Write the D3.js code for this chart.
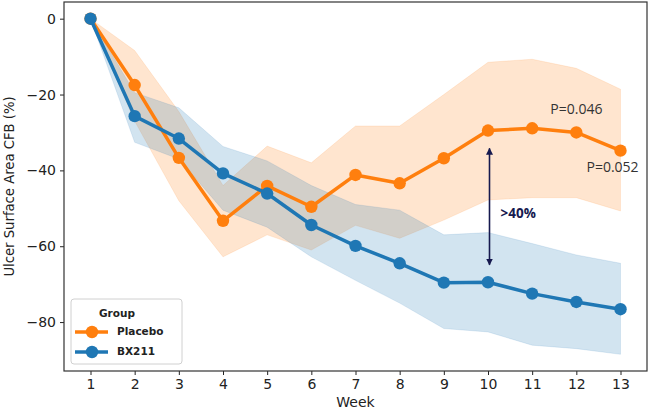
<!DOCTYPE html>
<html>
<head>
<meta charset="utf-8">
<script src="https://cdn.jsdelivr.net/npm/d3@7"></script>
<style>
  body { margin: 0; background: #fff; }
  svg { display: block; }
</style>
</head>
<body>
<svg id="chart" width="650" height="412"></svg>
<script>
// ---- Data ----
const weeks = [1, 2, 3, 4, 5, 6, 7, 8, 9, 10, 11, 12, 13];
const placeboMean  = [0, -17.5, -36.7, -53.3, -44.1, -49.6, -41.2, -43.4, -36.8, -29.5, -28.9, -30.0, -34.8];
const placeboUpper = [0, -8.4, -24.5, -44.0, -33.6, -38.0, -28.3, -28.3, -20.0, -11.5, -10.7, -13.1, -18.6];
const placeboLower = [0, -27.0, -48.0, -62.8, -57.0, -61.0, -54.5, -57.9, -53.1, -47.8, -47.2, -47.2, -50.7];
const bxMean  = [0, -25.7, -31.6, -40.8, -46.1, -54.4, -59.9, -64.5, -69.6, -69.5, -72.5, -74.7, -76.6];
const bxUpper = [0, -19.5, -23.5, -33.7, -37.5, -44.0, -49.0, -50.5, -57.0, -56.4, -59.3, -62.3, -64.5];
const bxLower = [0, -32.6, -37.0, -50.5, -55.0, -62.8, -69.0, -75.0, -81.7, -82.6, -86.1, -87.0, -88.5];
const yTicks = [0, -20, -40, -60, -80];
const seriesNames = ["Placebo", "BX211"];
const annotations = [
  { text: "P=0.046", week: 12.0, value: -24.2 },
  { text: "P=0.052", week: 12.82, value: -39.4 }
];
const diffLabel = ">40%";
const diffWeek = 10;
const diffFrom = -34.2, diffTo = -64.9;
const diffLabelValue = -51.5;

// ---- Layout ----
const W = 650, H = 412;
const margin = { left: 64, top: 2, right: 3, bottom: 41 };
const pw = W - margin.left - margin.right;
const ph = H - margin.top - margin.bottom;

const orange = "#ff7f0e", blue = "#1f77b4", navy = "#16194f";

const svg = d3.select("#chart");
const g = svg.append("g").attr("transform", `translate(${margin.left},${margin.top})`);

const x = d3.scaleLinear().domain([0.4, 13.6]).range([0, pw]);
const y = d3.scaleLinear().domain([-92.9, 4.4]).range([ph, 0]);

const series = [
  { name: seriesNames[0], color: orange, mean: placeboMean, lo: placeboLower, hi: placeboUpper },
  { name: seriesNames[1], color: blue, mean: bxMean, lo: bxLower, hi: bxUpper }
];

// Bands
const area = d3.area()
  .x(d => x(d.w)).y0(d => y(d.lo)).y1(d => y(d.hi));
series.forEach(s => {
  const pts = weeks.map((w, i) => ({ w, lo: s.lo[i], hi: s.hi[i] }));
  g.append("path").datum(pts)
    .attr("d", area)
    .attr("fill", s.color)
    .attr("fill-opacity", 0.2)
    .attr("stroke", s.color)
    .attr("stroke-opacity", 0.12)
    .attr("stroke-width", 1);
});

// Lines + markers
const line = d3.line().x(d => x(d.w)).y(d => y(d.v));
series.forEach(s => {
  const pts = weeks.map((w, i) => ({ w, v: s.mean[i] }));
  g.append("path").datum(pts)
    .attr("d", line)
    .attr("fill", "none")
    .attr("stroke", s.color)
    .attr("stroke-width", 3.5)
    .attr("stroke-linejoin", "round");
  g.selectAll(null).data(pts).enter().append("circle")
    .attr("cx", d => x(d.w)).attr("cy", d => y(d.v))
    .attr("r", 6.2).attr("fill", s.color);
});

// Axes
const xAxis = d3.axisBottom(x).tickValues(weeks).tickFormat(d3.format("d")).tickSize(4).tickPadding(4);
const yAxis = d3.axisLeft(y).tickValues(yTicks).tickFormat(d => d < 0 ? "\u2212" + Math.abs(d) : d).tickSize(4).tickPadding(4);

const gx = g.append("g").attr("transform", `translate(0,${ph})`).call(xAxis);
const gy = g.append("g").call(yAxis);
[gx, gy].forEach(a => {
  a.select(".domain").remove();
  a.selectAll("line").attr("stroke", "#222").attr("stroke-width", 1);
  a.selectAll("text").attr("font-family", "DejaVu Sans").attr("font-size", 14).attr("fill", "#222");
});

// Frame
g.append("rect").attr("x", 0).attr("y", 0).attr("width", pw).attr("height", ph)
  .attr("fill", "none").attr("stroke", "#333").attr("stroke-width", 1.2);

// Axis labels
svg.append("text")
  .attr("x", margin.left + x(7)).attr("y", 407)
  .attr("text-anchor", "middle")
  .attr("font-family", "DejaVu Sans").attr("font-size", 14).attr("fill", "#222")
  .text("Week");
svg.append("text")
  .attr("transform", `translate(14,${margin.top + ph / 2}) rotate(-90)`)
  .attr("text-anchor", "middle")
  .attr("font-family", "DejaVu Sans").attr("font-size", 13.2).attr("fill", "#222")
  .text("Ulcer Surface Area CFB (%)");

// Annotations
annotations.forEach(a => {
  g.append("text")
    .attr("x", x(a.week)).attr("y", y(a.value))
    .attr("text-anchor", "middle").attr("dominant-baseline", "middle")
    .attr("font-family", "Open Sans").attr("font-size", 14).attr("fill", "#333")
    .text(a.text);
});

// Double arrow
const defs = svg.append("defs");
defs.append("marker").attr("id", "ah").attr("viewBox", "0 0 10 10")
  .attr("refX", 9).attr("refY", 5).attr("markerWidth", 7).attr("markerHeight", 7)
  .attr("markerUnits", "userSpaceOnUse").attr("orient", "auto-start-reverse")
  .append("path").attr("d", "M0,0 L10,5 L0,10 z").attr("fill", navy);
g.append("line")
  .attr("x1", x(diffWeek) + 1.5).attr("x2", x(diffWeek) + 1.5)
  .attr("y1", y(diffFrom)).attr("y2", y(diffTo))
  .attr("stroke", navy).attr("stroke-width", 1.6)
  .attr("marker-start", "url(#ah)").attr("marker-end", "url(#ah)");
g.append("text")
  .attr("x", x(diffWeek) + 12.5).attr("y", y(diffLabelValue))
  .attr("dominant-baseline", "middle")
  .attr("font-family", "Open Sans").attr("font-weight", "bold").attr("font-size", 13.5).attr("fill", navy)
  .text(diffLabel);

// Legend
const lg = g.append("g").attr("transform", `translate(7,${299 - margin.top})`);
lg.append("rect").attr("x", 0).attr("y", 0).attr("width", 111).attr("height", 65)
  .attr("rx", 3).attr("fill", "#fff").attr("fill-opacity", 0.85)
  .attr("stroke", "#d0d0d0").attr("stroke-width", 1);
lg.append("text").attr("x", 46).attr("y", 15)
  .attr("text-anchor", "middle").attr("dominant-baseline", "middle")
  .attr("font-family", "DejaVu Sans").attr("font-weight", "bold").attr("font-size", 10.5).attr("fill", "#222")
  .text("Group");
series.forEach((s, i) => {
  const yy = 33 + i * 20;
  lg.append("line").attr("x1", 4).attr("x2", 37).attr("y1", yy).attr("y2", yy)
    .attr("stroke", s.color).attr("stroke-width", 3.5);
  lg.append("circle").attr("cx", 21).attr("cy", yy).attr("r", 6.2).attr("fill", s.color);
  lg.append("text").attr("x", 46).attr("y", yy)
    .attr("dominant-baseline", "middle")
    .attr("font-family", "DejaVu Sans").attr("font-weight", "bold").attr("font-size", 10.5).attr("fill", "#222")
    .text(s.name);
});
</script>
</body>
</html>
